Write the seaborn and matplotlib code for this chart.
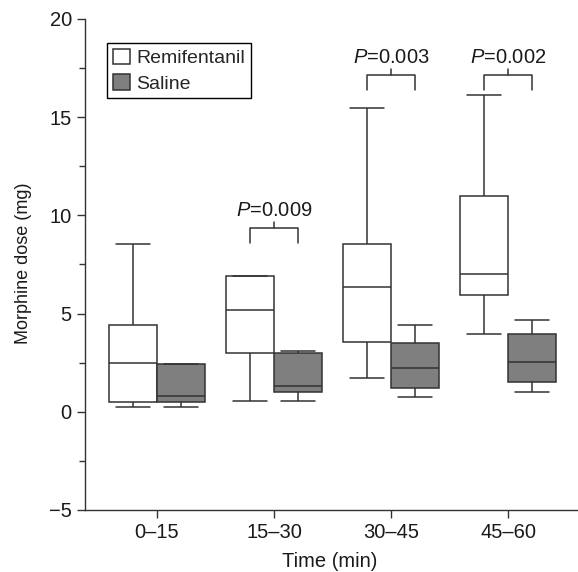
import pandas as pd
import seaborn as sns
import matplotlib.pyplot as plt
from matplotlib.ticker import MultipleLocator

times = ["0–15", "15–30", "30–45", "45–60"]
groups = ["Remifentanil", "Saline"]

# per time window: lower whisker, Q1, median, Q3, upper whisker
remifentanil = [
    [0.25, 0.48, 2.50, 4.40, 8.55],
    [0.53, 2.97, 5.20, 6.89, 6.89],
    [1.70, 3.53, 6.33, 8.56, 15.45],
    [3.98, 5.96, 7.02, 10.98, 16.13],
]
saline = [
    [0.25, 0.48, 0.80, 2.43, 2.43],
    [0.55, 1.02, 1.29, 2.98, 3.12],
    [0.77, 1.22, 2.22, 3.52, 4.44],
    [1.00, 1.53, 2.52, 3.96, 4.66],
]

p_times = ["15–30", "30–45", "45–60"]
p_labels = ["0.009", "0.003", "0.002"]
p_levels = [8.6, 16.4, 16.4]

rows = []
for t, r_vals, s_vals in zip(times, remifentanil, saline):
    for v in r_vals:
        rows.append((t, "Remifentanil", v))
    for v in s_vals:
        rows.append((t, "Saline", v))
df = pd.DataFrame(rows, columns=["time", "group", "dose"])

sns.set_theme(style="ticks")
plt.rcParams["font.family"] = ["Liberation Sans", "DejaVu Sans"]
plt.rcParams["mathtext.fontset"] = "custom"
plt.rcParams["mathtext.it"] = "Liberation Sans:italic"
plt.rcParams["mathtext.rm"] = "Liberation Sans"

fig = plt.figure(figsize=(5.78, 5.72), dpi=100)
ax = fig.add_axes([0.1471, 0.1084, 0.8529, 0.8584])

line_col = "#333333"
txt_col = "#1a1a1a"
fs = 14.5

sns.boxplot(data=df, x="time", y="dose", hue="group", order=times, hue_order=groups,
            palette={"Remifentanil": "white", "Saline": "#7f7f7f"}, saturation=1,
            width=0.82, gap=0, whis=(0, 100), showfliers=False,
            linecolor=line_col, linewidth=1.1, capwidths=0.29, ax=ax)

# significance brackets
for t, lab, lvl in zip(p_times, p_labels, p_levels):
    c = times.index(t)
    x0, x1 = c - 0.205, c + 0.205
    ax.plot([x0, x0, x1, x1], [lvl, lvl + 0.74, lvl + 0.74, lvl], color=line_col, lw=1.1)
    ax.plot([c, c], [lvl + 0.74, lvl + 1.05], color=line_col, lw=1.1)
    ax.text(c, lvl + 1.35, f"$P$={lab}", ha="center", va="baseline",
            fontsize=fs, color=txt_col)

ax.set_ylim(-5, 20)
ax.set_xlim(-0.615, 3.595)
ax.yaxis.set_major_locator(MultipleLocator(5))
ax.yaxis.set_minor_locator(MultipleLocator(2.5))
ax.tick_params(axis="both", which="major", length=6, width=1.0, color=line_col,
               labelsize=fs, pad=3.5, labelcolor=txt_col)
ax.tick_params(axis="y", which="minor", length=4.5, width=1.0, color=line_col)
ax.set_yticks([-5, 0, 5, 10, 15, 20], ["\u22125", "0", "5", "10", "15", "20"])

sns.despine(ax=ax)
for s in ["left", "bottom"]:
    ax.spines[s].set_color(line_col)
    ax.spines[s].set_linewidth(1.0)

ax.set_xlabel("Time (min)", fontsize=fs, color=txt_col)
ax.set_ylabel("Morphine dose (mg)", fontsize=13, color=txt_col)
ax.xaxis.set_label_coords(0.497, -0.085)
ax.yaxis.set_label_coords(-0.107, 0.503)

sns.move_legend(ax, "upper left", bbox_to_anchor=(0.045, 0.951), borderaxespad=0,
                title=None, frameon=True, fancybox=False, edgecolor="black",
                framealpha=1, fontsize=14, handlelength=0.85, handleheight=0.85,
                handletextpad=0.35, labelspacing=0.35, borderpad=0.3)
ax.get_legend().get_frame().set_linewidth(1.0)

fig.savefig("out.png", dpi=100)
